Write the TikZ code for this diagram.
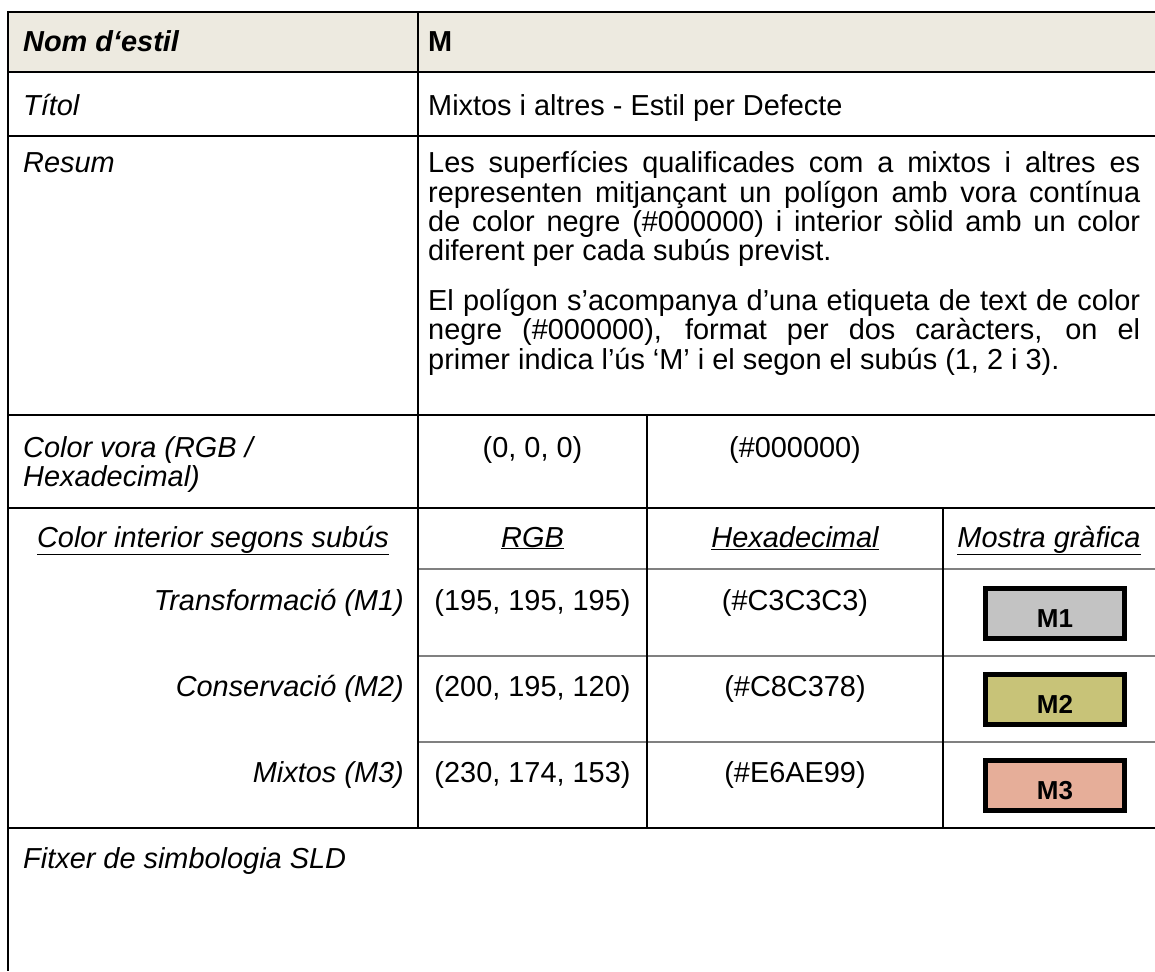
\documentclass[tikz,border=0pt]{standalone}
\usepackage{fontspec}
\setmainfont{Liberation Sans}
\definecolor{hdr}{HTML}{EDEAE0}
\definecolor{gline}{HTML}{808080}
\definecolor{mone}{HTML}{C3C3C3}
\definecolor{mtwo}{HTML}{C8C378}
\definecolor{mthree}{HTML}{E6AE99}
\begin{document}
\begin{tikzpicture}[x=1pt,y=-1pt,
  txt/.style={inner sep=0pt, font=\fontsize{28.9}{29.3}\selectfont},
  lft/.style={txt, anchor=base west},
  ctr/.style={txt, anchor=base},
  rgt/.style={txt, anchor=base east},
  blk/.style={line width=2pt, black},
  gry/.style={line width=1.5pt, gline},
  sample/.style={draw=black, line width=5pt},
  slabel/.style={inner sep=0pt, anchor=base, font=\fontsize{26}{28}\selectfont\bfseries}]
\useasboundingbox (0,0) rectangle (1155,971);
\fill[white] (0,0) rectangle (1155,971);
\fill[hdr] (8,12) rectangle (1155,72);
% horizontal rules
\draw[blk] (8,12) -- (1155,12);
\draw[blk] (8,72) -- (1155,72);
\draw[blk] (8,136) -- (1155,136);
\draw[blk] (8,415) -- (1155,415);
\draw[blk] (8,508) -- (1155,508);
\draw[gry] (418,569) -- (1155,569);
\draw[gry] (418,656) -- (1155,656);
\draw[gry] (418,742) -- (1155,742);
\draw[blk] (8,828) -- (1155,828);
% vertical rules
\draw[blk] (8,11) -- (8,971);
\draw[blk] (418,12) -- (418,828);
\draw[blk] (647,415) -- (647,828);
\draw[blk] (943,508) -- (943,828);
% header
\node[lft] (nom) at (23,52) {\bfseries\itshape Nom d‘estil};
\node[lft] (nomv) at (428,52) {\bfseries M};
% titol
\node[lft] (tit) at (23,115) {\itshape Títol};
\node[lft] (titv) at (428,115) {Mixtos i altres - Estil per Defecte};
% resum
\node[lft] (res) at (23,172) {\itshape Resum};
\node[lft] (r1) at (428,172) {\makebox[712pt][s]{Les superfícies qualificades com a mixtos i altres es}};
\node[lft] (r2) at (428,202) {\makebox[712pt][s]{representen mitjançant un polígon amb vora contínua}};
\node[lft] (r3) at (428,231) {\makebox[712pt][s]{de color negre (\#000000) i interior sòlid amb un color}};
\node[lft] (r4) at (428,260) {diferent per cada subús previst.};
\node[lft] (r5) at (428,310) {\makebox[712pt][s]{El polígon s’acompanya d’una etiqueta de text de color}};
\node[lft] (r6) at (428,339) {\makebox[712pt][s]{negre (\#000000), format per dos caràcters, on el}};
\node[lft] (r7) at (428,369) {primer indica l’ús ‘M’ i el segon el subús (1, 2 i 3).};
% color vora
\node[lft] (cv1) at (23,457) {\itshape Color vora (RGB /};
\node[lft] (cv2) at (23,486) {\itshape Hexadecimal)};
\node[ctr] (cvrgb) at (532.5,457) {(0, 0, 0)};
\node[ctr] (cvhex) at (795,457) {(\#000000)};
% color interior header
\node[ctr] (ci) at (213,547) {\itshape\underline{Color interior segons subús}};
\node[ctr] (hrgb) at (532.5,547) {\itshape\underline{RGB}};
\node[ctr] (hhex) at (795,547) {\itshape\underline{Hexadecimal}};
\node[ctr] (hmos) at (1049,547) {\itshape\underline{Mostra gràfica}};
% rows
\node[rgt] (n1) at (404,610) {\itshape Transformació (M1)};
\node[ctr] (rgb1) at (532.5,610) {(195, 195, 195)};
\node[ctr] (hex1) at (795,610) {(\#C3C3C3)};
\node[rgt] (n2) at (404,696) {\itshape Conservació (M2)};
\node[ctr] (rgb2) at (532.5,696) {(200, 195, 120)};
\node[ctr] (hex2) at (795,696) {(\#C8C378)};
\node[rgt] (n3) at (404,782) {\itshape Mixtos (M3)};
\node[ctr] (rgb3) at (532.5,782) {(230, 174, 153)};
\node[ctr] (hex3) at (795,782) {(\#E6AE99)};
% samples
\draw[sample, fill=mone] (985.5,588.5) rectangle (1124.5,638.5);
\node[slabel] (s1) at (1055,627) {M1};
\draw[sample, fill=mtwo] (985.5,674.5) rectangle (1124.5,724.5);
\node[slabel] (s2) at (1055,713) {M2};
\draw[sample, fill=mthree] (985.5,760.5) rectangle (1124.5,810.5);
\node[slabel] (s3) at (1055,799) {M3};
% fitxer
\node[lft] (fit) at (23,868) {\itshape Fitxer de simbologia SLD};
\end{tikzpicture}
\end{document}
